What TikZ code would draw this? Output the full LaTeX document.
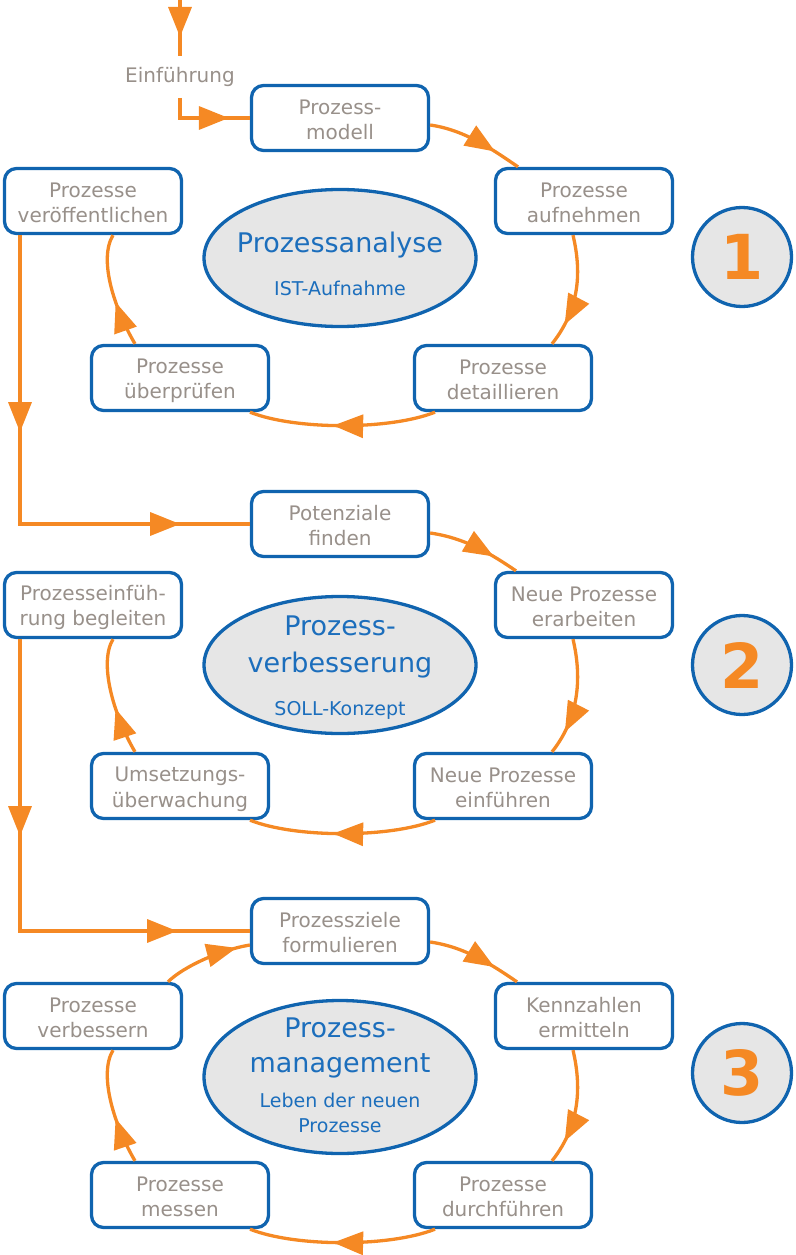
\documentclass[tikz,border=0pt]{standalone}
\usepackage{fontspec}
\setmainfont{DejaVu Sans}
\usetikzlibrary{arrows.meta,decorations.markings,shapes.geometric}

\definecolor{flow}{RGB}{245,137,36}
\definecolor{frame}{RGB}{16,100,175}
\definecolor{boxtext}{RGB}{152,144,138}
\definecolor{titletext}{RGB}{28,110,188}
\definecolor{pale}{RGB}{230,230,230}

% two-line box label with fixed baselines
\newcommand\ls{\rule[-4pt]{0pt}{25pt}}
\newcommand\twolines[2]{\ls#1\\\ls#2}

\tikzset{
  stepbox/.style={draw=frame, line width=3.3pt, rounded corners=12pt, fill=white,
    minimum width=177pt, minimum height=65pt, inner sep=0pt, align=center,
    text=boxtext, font=\fontsize{20}{25}\selectfont},
  phase/.style={ellipse, draw=frame, line width=3.3pt, fill=pale,
    minimum width=272pt, minimum height=137pt, inner sep=0pt},
  bigtitle/.style={anchor=base, text=titletext, inner sep=0pt, font=\fontsize{27}{30}\selectfont},
  subtitle/.style={anchor=base, text=titletext, inner sep=0pt, font=\fontsize{19}{22}\selectfont},
  numcircle/.style={circle, draw=frame, line width=3.3pt, fill=pale, minimum size=99pt,
    inner sep=0pt, text=flow, font=\fontsize{62}{62}\selectfont\bfseries},
  flowline/.style={draw=flow, line width=3.3pt},
  head/.style={postaction={decorate, decoration={markings,
    mark=at position #1 with {\arrow{Triangle[length=30pt,width=23pt]}}}}},
}

\begin{document}
\begin{tikzpicture}[x=1pt, y=-1pt]
\useasboundingbox (0,0) rectangle (795,1255);

% ---------- phase 1 ----------
\node[stepbox] (pm)  at (340,118) {\twolines{Prozess-}{modell}};
\node[stepbox] (auf) at (584,201) {\twolines{Prozesse}{aufnehmen}};
\node[stepbox] (det) at (503,378) {\twolines{Prozesse}{detaillieren}};
\node[stepbox] (ueb) at (180,378) {\twolines{Prozesse}{überprüfen}};
\node[stepbox] (ver) at (93,201)  {\twolines{Prozesse}{veröffentlichen}};
\node[phase] (e1) at (340,258) {};
\node[bigtitle] (t1) at (340,252) {Prozessanalyse};
\node[subtitle] (s1) at (340,295) {IST-Aufnahme};
\node[numcircle] (n1) at (742,257) {1};

% ---------- phase 2 ----------
\node[stepbox] (pf)  at (340,524) {\twolines{Potenziale}{finden}};
\node[stepbox] (nea) at (584,605) {\twolines{Neue Prozesse}{erarbeiten}};
\node[stepbox] (nee) at (503,786) {\twolines{Neue Prozesse}{einführen}};
\node[stepbox] (ums) at (180,786) {\twolines{Umsetzungs-}{überwachung}};
\node[stepbox] (beg) at (93,605)  {\twolines{Prozesseinfüh-}{rung begleiten}};
\node[phase] (e2) at (340,665) {};
\node[bigtitle] (t2a) at (340,635) {Prozess-};
\node[bigtitle] (t2b) at (340,672) {verbesserung};
\node[subtitle] (s2) at (340,715) {SOLL-Konzept};
\node[numcircle] (n2) at (742,665) {2};

% ---------- phase 3 ----------
\node[stepbox] (zf)  at (340,931)  {\twolines{Prozessziele}{formulieren}};
\node[stepbox] (kz)  at (584,1016) {\twolines{Kennzahlen}{ermitteln}};
\node[stepbox] (pd)  at (503,1195) {\twolines{Prozesse}{durchführen}};
\node[stepbox] (pme) at (180,1195) {\twolines{Prozesse}{messen}};
\node[stepbox] (pv)  at (93,1016)  {\twolines{Prozesse}{verbessern}};
\node[phase, minimum height=153pt] (e3) at (340,1077) {};
\node[bigtitle] (t3a) at (340,1037) {Prozess-};
\node[bigtitle] (t3b) at (340,1072) {management};
\node[subtitle] (s3a) at (340,1107) {Leben der neuen};
\node[subtitle] (s3b) at (340,1132) {Prozesse};
\node[numcircle] (n3) at (742,1073) {3};

% ---------- entry ----------
\coordinate (entry) at (180,0);
\node[text=boxtext, font=\fontsize{20}{25}\selectfont, inner xsep=2pt, inner ysep=11pt] (ein) at (180,77) {Einführung};
\draw[flowline, head=37pt] (entry) -- (ein);
\draw[flowline, head=69pt] (ein) |- (pm.west);

% ---------- cycle 1 ----------
\draw[flowline, head=0.72] ([yshift=-7pt]pm.east) .. controls +(35,5) and +(-25,-17) .. ([xshift=-66pt]auf.north);
\draw[flowline, head=0.8] ([xshift=-11pt]auf.south) .. controls +(7,30) and +(31,-39) .. ([xshift=49pt]det.north);
\draw[flowline, head=0.55] ([xshift=-68pt]det.south) .. controls +(-45,18) and +(45,18) .. ([xshift=70pt]ueb.south);
\draw[flowline, head=0.4] ([xshift=-45pt]ueb.north) .. controls +(-20,-34) and +(-15,25) .. ([xshift=20pt]ver.south);
\draw[flowline, head=197pt, head=449pt] ([xshift=-73pt]ver.south) |- (pf.west);

% ---------- cycle 2 ----------
\draw[flowline, head=0.72] ([yshift=-9pt]pf.east) .. controls +(35,5) and +(-25,-17) .. ([xshift=-68pt]nea.north);
\draw[flowline, head=0.8] ([xshift=-11pt]nea.south) .. controls +(7,30) and +(31,-39) .. ([xshift=49pt]nee.north);
\draw[flowline, head=0.55] ([xshift=-68pt]nee.south) .. controls +(-45,18) and +(45,18) .. ([xshift=70pt]ums.south);
\draw[flowline, head=0.4] ([xshift=-45pt]ums.north) .. controls +(-20,-34) and +(-15,25) .. ([xshift=20pt]beg.south);
\draw[flowline, head=197pt, head=449pt] ([xshift=-73pt]beg.south) |- (zf.west);

% ---------- cycle 3 ----------
\draw[flowline, head=0.72] ([yshift=-11pt]zf.east) .. controls +(35,5) and +(-25,-17) .. ([xshift=-67pt]kz.north);
\draw[flowline, head=0.8] ([xshift=-11pt]kz.south) .. controls +(7,30) and +(31,-39) .. ([xshift=49pt]pd.north);
\draw[flowline, head=0.55] ([xshift=-68pt]pd.south) .. controls +(-45,18) and +(45,18) .. ([xshift=70pt]pme.south);
\draw[flowline, head=0.4] ([xshift=-45pt]pme.north) .. controls +(-20,-34) and +(-15,25) .. ([xshift=20pt]pv.south);
\draw[flowline, head=0.85] ([xshift=75pt]pv.north) .. controls +(15,-15) and +(-30,5) .. ([yshift=-14pt]zf.west);
\end{tikzpicture}
\end{document}
